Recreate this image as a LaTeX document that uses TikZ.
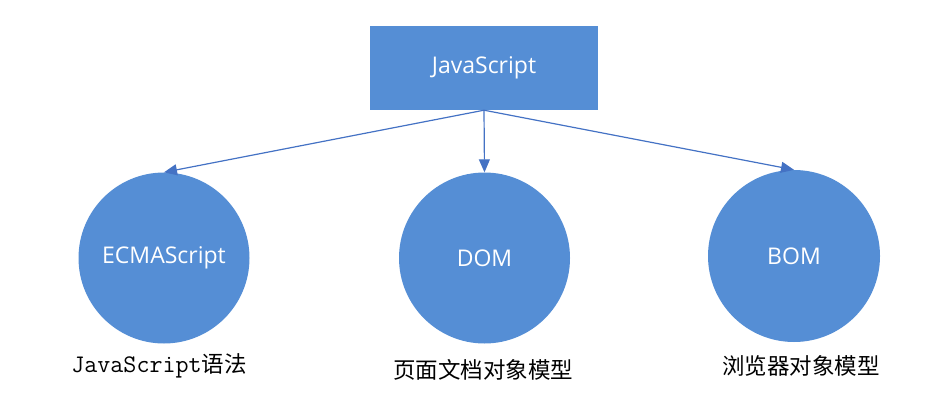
\documentclass[tikz,border=0pt]{standalone}
\usepackage{fontspec}
\setmainfont{Open Sans}
\newfontfamily\cjk{Noto Sans CJK SC}
\usetikzlibrary{arrows.meta}
\definecolor{boxblue}{RGB}{85,142,213}
\definecolor{linkblue}{RGB}{68,114,196}
\begin{document}
\begin{tikzpicture}[x=1pt,y=-1pt,
  boxnode/.style={fill=boxblue,draw=none,minimum width=228pt,minimum height=84pt,inner sep=0pt,text=white,font=\fontsize{23}{26}\selectfont},
  ballnode/.style={circle,fill=boxblue,draw=none,minimum size=171pt,inner sep=0pt,text=white,font=\fontsize{23}{26}\selectfont},
  caption/.style={inner sep=0pt,text=black,font=\cjk\fontsize{22.5}{26}\selectfont},
  link/.style={draw=linkblue,line width=1.2pt,-{Triangle[length=13pt,width=11pt]}}]
\useasboundingbox (0,0) rectangle (952,414);
\node[boxnode] (js) at (484,68) {JavaScript};
\node[ballnode] (ecma) at (164,258) {ECMAScript};
\node[ballnode] (dom) at (484.5,258) {DOM};
\node[ballnode,minimum size=172pt] (bom) at (794,256) {BOM};
\node[caption] (c1) at (159,366) {{\ttfamily\fontsize{25.3}{26}\selectfont JavaScript}语法};
\node[caption] (c2) at (483,370) {页面文档对象模型};
\node[caption] (c3) at (801,366) {浏览器对象模型};
\draw[link] (js.south) -- (ecma.north);
\draw[link] (js.south) -- (dom.north);
\draw[link] (js.south) -- (bom.north);
\end{tikzpicture}
\end{document}
